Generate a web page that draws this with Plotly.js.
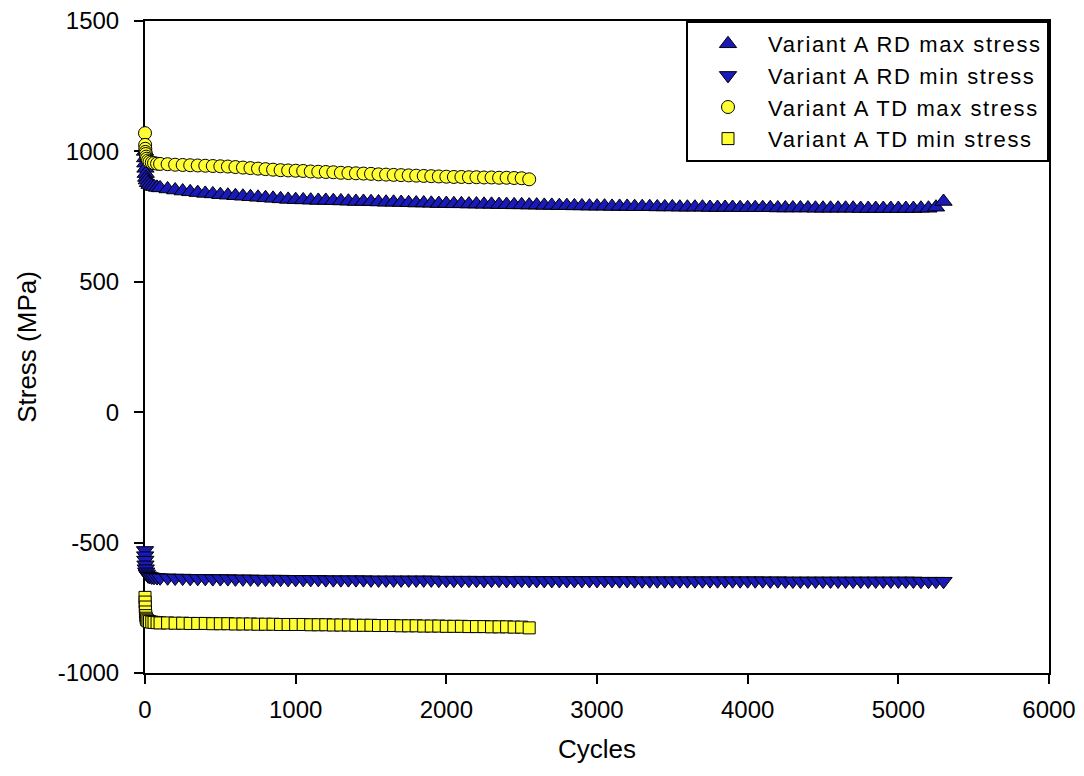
<!DOCTYPE html>
<html>
<head>
<meta charset="utf-8">
<script src="https://cdn.plot.ly/plotly-3.0.1.min.js"></script>
<style>
html,body{margin:0;padding:0;background:#fff;}
#chart{width:1084px;height:776px;}
.legendtext{letter-spacing:1.6px;}
</style>
</head>
<body>
<div id="chart"></div>
<script>
// ---- Data ----
const rdCycles = [0,1,2,3,5,8,12,20,30,45,60,80,100,
  150,200,250,300,350,400,450,500,550,600,650,700,750,800,850,900,950,1000,
  1050,1100,1150,1200,1250,1300,1350,1400,1450,1500,1550,1600,1650,1700,1750,1800,1850,1900,1950,2000,
  2050,2100,2150,2200,2250,2300,2350,2400,2450,2500,2550,2600,2650,2700,2750,2800,2850,2900,2950,3000,
  3050,3100,3150,3200,3250,3300,3350,3400,3450,3500,3550,3600,3650,3700,3750,3800,3850,3900,3950,4000,
  4050,4100,4150,4200,4250,4300,4350,4400,4450,4500,4550,4600,4650,4700,4750,4800,4850,4900,4950,5000,
  5050,5100,5150,5200,5250,5300];

const rdMax = [1000,975,955,935,915,900,890,880,873,868,865,862,860,
  856,852,848,845,842,839,837,834,832,830,828,826,824,822,820,818,816,815,
  814,813,812,812,811,810,809,808,808,807,806,805,805,804,803,802,802,801,800,800,
  799,799,798,798,797,797,796,796,795,795,794,794,793,793,792,792,791,791,790,790,
  790,789,789,789,788,788,788,787,787,787,786,786,786,786,785,785,785,785,784,784,
  784,784,784,783,783,783,783,783,782,782,782,782,782,782,781,781,781,781,781,781,
  781,781,782,782,786,808];

const rdMin = [-530,-550,-567,-585,-600,-612,-620,-627,-630,-632,-633,-634,-635,
  -635,-636,-636,-637,-637,-637,-638,-638,-638,-639,-639,-639,-640,-640,-640,-640,-641,-641,
  -641,-641,-641,-642,-642,-642,-642,-642,-642,-643,-643,-643,-643,-643,-643,-643,-643,-643,-644,-644,
  -644,-644,-644,-644,-645,-644,-644,-645,-645,-644,-645,-645,-645,-645,-645,-645,-645,-645,-645,-645,
  -645,-645,-646,-645,-646,-646,-646,-646,-646,-646,-646,-646,-646,-646,-646,-646,-646,-646,-646,-646,
  -646,-646,-647,-646,-647,-647,-647,-647,-647,-647,-647,-647,-647,-647,-647,-647,-647,-647,-647,-647,
  -647,-647,-648,-648,-648,-648];

const tdCycles = [0,1,2,3,5,8,12,20,30,45,60,80,100,
  150,200,250,300,350,400,450,500,550,600,650,700,750,800,850,900,950,1000,
  1050,1100,1150,1200,1250,1300,1350,1400,1450,1500,1550,1600,1650,1700,1750,1800,1850,1900,1950,2000,
  2050,2100,2150,2200,2250,2300,2350,2400,2450,2500,2550];

const tdMax = [1070,1025,1010,998,990,980,972,965,960,957,955,953,952,
  951,949,948,947,946,945,944,943,942,940,938,936,934,932,930,928,927,926,
  925,923,922,921,920,918,917,916,915,914,912,911,910,909,908,907,906,905,904,903,
  902,902,901,901,900,900,899,899,898,897,893];

const tdMin = [-710,-728,-747,-766,-780,-790,-796,-800,-803,-805,-806,-807,-808,
  -808,-809,-809,-810,-810,-810,-811,-811,-811,-812,-812,-812,-813,-813,-813,-814,-814,-814,
  -814,-815,-815,-815,-816,-816,-816,-817,-817,-817,-818,-818,-818,-819,-819,-819,-820,-820,-820,-821,
  -821,-821,-822,-822,-822,-823,-823,-823,-824,-824,-827];

const seriesNames = ['Variant A RD max stress','Variant A RD min stress','Variant A TD max stress','Variant A TD min stress'];
const xTicks = [0,1000,2000,3000,4000,5000,6000];
const yTicks = [-1000,-500,0,500,1000,1500];

// ---- Styles ----
const BLUE = '#1a1ab8';
const YELLOW = '#ffff33';
const mk = (symbol, color, size) => ({symbol: symbol, color: color, size: size, line: {color: '#000', width: 1}});

const traces = [
  {x: rdCycles, y: rdMax, name: seriesNames[0], mode: 'markers', type: 'scatter', legendgroup: 'a', cliponaxis: false, marker: mk('triangle-up', BLUE, 15)},
  {x: rdCycles, y: rdMin, name: seriesNames[1], mode: 'markers', type: 'scatter', legendgroup: 'b', cliponaxis: false, marker: mk('triangle-down', BLUE, 15)},
  {x: tdCycles, y: tdMax, name: seriesNames[2], mode: 'markers', type: 'scatter', legendgroup: 'c', cliponaxis: false, marker: mk('circle', YELLOW, 13)},
  {x: tdCycles, y: tdMin, name: seriesNames[3], mode: 'markers', type: 'scatter', legendgroup: 'd', cliponaxis: false, marker: mk('square', YELLOW, 12)}
];

const FONT = 'Arial, "Liberation Sans", sans-serif';

const layout = {
  width: 1084, height: 776,
  margin: {l: 145, r: 35, t: 21, b: 103},
  paper_bgcolor: '#fff', plot_bgcolor: '#fff',
  font: {family: FONT, color: '#000', size: 24},
  showlegend: true,
  legend: {
    x: 1, xanchor: 'right', y: 1, yanchor: 'top',
    bgcolor: '#fff', bordercolor: '#000', borderwidth: 2,
    font: {family: FONT, size: 22, color: '#000'},
    tracegroupgap: 0, itemwidth: 70
  },
  xaxis: {
    range: [0, 6000], tickvals: xTicks, ticktext: xTicks.map(String),
    showgrid: false, zeroline: false, showline: true, mirror: true,
    linecolor: '#000', linewidth: 2, ticks: 'outside', ticklen: 9, tickwidth: 2, tickcolor: '#000',
    layer: 'below traces', ticklabelstandoff: 5,
    tickfont: {family: FONT, size: 24},
    title: {text: 'Cycles', font: {family: FONT, size: 26}, standoff: 18}
  },
  yaxis: {
    range: [-1000, 1500], tickvals: yTicks, ticktext: yTicks.map(String),
    showgrid: false, zeroline: false, showline: true, mirror: true,
    linecolor: '#000', linewidth: 2, ticks: 'outside', ticklen: 9, tickwidth: 2, tickcolor: '#000',
    layer: 'below traces', ticklabelstandoff: 10,
    tickfont: {family: FONT, size: 24},
    title: {text: 'Stress (MPa)', font: {family: FONT, size: 26}, standoff: 14}
  }
};

Plotly.newPlot('chart', traces, layout, {displayModeBar: false, staticPlot: true});
</script>
</body>
</html>
